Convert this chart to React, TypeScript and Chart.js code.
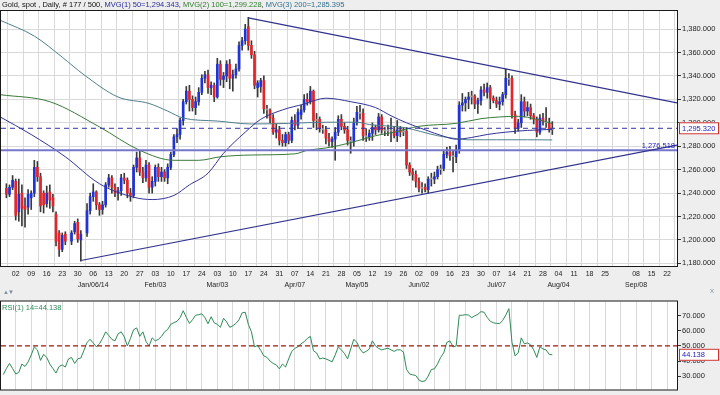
import React, { useEffect, useRef } from "react";
import { Chart, registerables } from "chart.js";

Chart.register(...registerables);

const FONT = "'Liberation Sans', Arial, sans-serif";

// ---------------- data ----------------
const dates = [
  "2013-11-27", "2013-11-28", "2013-11-29",
  "2013-12-02", "2013-12-03", "2013-12-04", "2013-12-05", "2013-12-06",
  "2013-12-09", "2013-12-10", "2013-12-11", "2013-12-12", "2013-12-13",
  "2013-12-16", "2013-12-17", "2013-12-18", "2013-12-19", "2013-12-20",
  "2013-12-23", "2013-12-24", "2013-12-26", "2013-12-27",
  "2013-12-30", "2013-12-31", "2014-01-02", "2014-01-03",
  "2014-01-06", "2014-01-07", "2014-01-08", "2014-01-09", "2014-01-10",
  "2014-01-13", "2014-01-14", "2014-01-15", "2014-01-16", "2014-01-17",
  "2014-01-20", "2014-01-21", "2014-01-22", "2014-01-23", "2014-01-24",
  "2014-01-27", "2014-01-28", "2014-01-29", "2014-01-30", "2014-01-31",
  "2014-02-03", "2014-02-04", "2014-02-05", "2014-02-06", "2014-02-07",
  "2014-02-10", "2014-02-11", "2014-02-12", "2014-02-13", "2014-02-14",
  "2014-02-17", "2014-02-18", "2014-02-19", "2014-02-20", "2014-02-21",
  "2014-02-24", "2014-02-25", "2014-02-26", "2014-02-27", "2014-02-28",
  "2014-03-03", "2014-03-04", "2014-03-05", "2014-03-06", "2014-03-07",
  "2014-03-10", "2014-03-11", "2014-03-12", "2014-03-13", "2014-03-14",
  "2014-03-17", "2014-03-18", "2014-03-19", "2014-03-20", "2014-03-21",
  "2014-03-24", "2014-03-25", "2014-03-26", "2014-03-27", "2014-03-28",
  "2014-03-31", "2014-04-01", "2014-04-02", "2014-04-03", "2014-04-04",
  "2014-04-07", "2014-04-08", "2014-04-09", "2014-04-10", "2014-04-11",
  "2014-04-14", "2014-04-15", "2014-04-16", "2014-04-17", "2014-04-18",
  "2014-04-21", "2014-04-22", "2014-04-23", "2014-04-24", "2014-04-25",
  "2014-04-28", "2014-04-29", "2014-04-30", "2014-05-01", "2014-05-02",
  "2014-05-05", "2014-05-06", "2014-05-07", "2014-05-08", "2014-05-09",
  "2014-05-12", "2014-05-13", "2014-05-14", "2014-05-15", "2014-05-16",
  "2014-05-19", "2014-05-20", "2014-05-21", "2014-05-22", "2014-05-23",
  "2014-05-26", "2014-05-27", "2014-05-28", "2014-05-29", "2014-05-30",
  "2014-06-02", "2014-06-03", "2014-06-04", "2014-06-05", "2014-06-06",
  "2014-06-09", "2014-06-10", "2014-06-11", "2014-06-12", "2014-06-13",
  "2014-06-16", "2014-06-17", "2014-06-18", "2014-06-19", "2014-06-20",
  "2014-06-23", "2014-06-24", "2014-06-25", "2014-06-26", "2014-06-27",
  "2014-06-30", "2014-07-01", "2014-07-02", "2014-07-03", "2014-07-04",
  "2014-07-07", "2014-07-08", "2014-07-09", "2014-07-10", "2014-07-11",
  "2014-07-14", "2014-07-15", "2014-07-16", "2014-07-17", "2014-07-18",
  "2014-07-21", "2014-07-22", "2014-07-23", "2014-07-24", "2014-07-25",
  "2014-07-28", "2014-07-29", "2014-07-30", "2014-07-31",
];

const opens = [
  1244, 1239, 1245,
  1250, 1224, 1240, 1229, 1228,
  1236, 1240, 1262, 1254, 1240,
  1231, 1241, 1236, 1222, 1206,
  1192, 1205, 1199, 1207,
  1215, 1200, 1206, 1225,
  1237, 1241, 1230, 1226, 1230,
  1247, 1253, 1245, 1240, 1242,
  1253, 1251, 1240, 1238, 1262,
  1270, 1258, 1253, 1264, 1245,
  1250, 1262, 1254, 1258, 1253,
  1262, 1273, 1288, 1290, 1302,
  1318, 1327, 1320, 1313, 1318,
  1326, 1338, 1341, 1330, 1332,
  1322, 1350, 1337, 1340, 1350,
  1338, 1341, 1346, 1366, 1370,
  1382, 1366, 1358, 1330, 1331,
  1336, 1312, 1311, 1304, 1292,
  1294, 1285, 1283, 1290, 1285,
  1302, 1298, 1307, 1311, 1320,
  1318, 1327, 1302, 1303, 1295,
  1294, 1287, 1284, 1286, 1292,
  1303, 1297, 1294, 1285, 1284,
  1300, 1309, 1308, 1289, 1288,
  1291, 1296, 1294, 1305, 1294,
  1293, 1294, 1293, 1289, 1294,
  1292, 1293, 1264, 1258, 1256,
  1250, 1244, 1245, 1243, 1252,
  1252, 1254, 1260, 1261, 1273,
  1275, 1272, 1271, 1277, 1315,
  1317, 1320, 1322, 1323, 1316,
  1319, 1328, 1326, 1330, 1321,
  1319, 1316, 1318, 1324, 1338,
  1338, 1307, 1295, 1300, 1318,
  1310, 1313, 1306, 1303, 1292,
  1304, 1301, 1300, 1294,
];

const highs = [
  1248, 1247, 1255,
  1252, 1252, 1247, 1236, 1243,
  1242, 1268, 1267, 1257, 1242,
  1246, 1247, 1239, 1224, 1208,
  1206, 1207, 1208, 1216,
  1218, 1208, 1231, 1240,
  1248, 1242, 1232, 1233, 1249,
  1256, 1255, 1248, 1245, 1256,
  1257, 1253, 1244, 1264, 1275,
  1276, 1262, 1268, 1266, 1254,
  1264, 1265, 1262, 1260, 1265,
  1275, 1290, 1295, 1304, 1320,
  1331, 1332, 1323, 1322, 1330,
  1341, 1344, 1345, 1335, 1334,
  1355, 1353, 1343, 1353, 1354,
  1345, 1350, 1369, 1373, 1384,
  1390, 1370, 1361, 1336, 1338,
  1340, 1315, 1312, 1307, 1299,
  1297, 1290, 1292, 1292, 1305,
  1307, 1312, 1315, 1324, 1325,
  1331, 1328, 1308, 1305, 1298,
  1297, 1291, 1288, 1296, 1306,
  1307, 1300, 1297, 1288, 1304,
  1314, 1315, 1312, 1295, 1294,
  1300, 1298, 1308, 1307, 1296,
  1298, 1304, 1297, 1302, 1297,
  1296, 1296, 1266, 1261, 1259,
  1253, 1249, 1248, 1254, 1257,
  1258, 1263, 1264, 1276, 1279,
  1280, 1276, 1281, 1318, 1325,
  1322, 1326, 1327, 1324, 1321,
  1331, 1333, 1334, 1332, 1323,
  1322, 1322, 1326, 1346, 1342,
  1340, 1310, 1303, 1324, 1322,
  1318, 1316, 1308, 1305, 1307,
  1308, 1313, 1304, 1301,
];

const lows = [
  1236, 1237, 1243,
  1217, 1216, 1212, 1211, 1222,
  1226, 1237, 1250, 1224, 1223,
  1228, 1227, 1224, 1195, 1186,
  1190, 1196, 1196, 1205,
  1198, 1182, 1203, 1222,
  1233, 1226, 1221, 1222, 1228,
  1245, 1240, 1237, 1234, 1238,
  1248, 1236, 1233, 1236, 1258,
  1255, 1249, 1250, 1240, 1240,
  1246, 1250, 1250, 1250, 1248,
  1260, 1271, 1283, 1286, 1298,
  1316, 1310, 1310, 1307, 1315,
  1324, 1334, 1325, 1324, 1318,
  1321, 1332, 1330, 1335, 1329,
  1327, 1338, 1344, 1362, 1367,
  1362, 1355, 1329, 1322, 1326,
  1308, 1304, 1300, 1290, 1287,
  1281, 1280, 1280, 1282, 1283,
  1294, 1295, 1303, 1309, 1315,
  1316, 1296, 1294, 1292, 1291,
  1282, 1280, 1279, 1268, 1289,
  1294, 1291, 1281, 1274, 1280,
  1298, 1303, 1285, 1284, 1285,
  1285, 1290, 1292, 1291, 1289,
  1289, 1284, 1287, 1284, 1288,
  1289, 1261, 1255, 1251, 1245,
  1241, 1240, 1241, 1240, 1246,
  1248, 1252, 1256, 1259, 1270,
  1268, 1258, 1266, 1274, 1310,
  1310, 1312, 1316, 1312, 1308,
  1315, 1323, 1321, 1312, 1317,
  1313, 1311, 1315, 1321, 1332,
  1304, 1291, 1293, 1296, 1305,
  1306, 1303, 1299, 1288, 1290,
  1298, 1296, 1292, 1290,
];

const closes = [
  1239, 1245, 1251,
  1221, 1239, 1227, 1226, 1239,
  1240, 1262, 1254, 1229, 1230,
  1240, 1234, 1229, 1199, 1192,
  1204, 1199, 1206, 1214,
  1201, 1205, 1225, 1237,
  1241, 1230, 1226, 1230, 1247,
  1253, 1245, 1240, 1242, 1253,
  1251, 1240, 1238, 1262, 1270,
  1258, 1253, 1264, 1245, 1250,
  1262, 1254, 1258, 1253, 1262,
  1273, 1288, 1290, 1302, 1318,
  1327, 1320, 1313, 1318, 1326,
  1338, 1341, 1330, 1332, 1322,
  1350, 1337, 1340, 1350, 1338,
  1341, 1346, 1366, 1370, 1380,
  1366, 1358, 1332, 1334, 1336,
  1312, 1311, 1304, 1292, 1294,
  1285, 1283, 1290, 1285, 1302,
  1298, 1309, 1311, 1320, 1318,
  1327, 1302, 1303, 1295, 1294,
  1287, 1284, 1286, 1292, 1303,
  1297, 1294, 1285, 1284, 1300,
  1309, 1308, 1289, 1288, 1291,
  1296, 1294, 1305, 1294, 1293,
  1294, 1293, 1289, 1294, 1292,
  1293, 1264, 1258, 1256, 1250,
  1244, 1245, 1243, 1252, 1252,
  1254, 1260, 1261, 1273, 1275,
  1272, 1271, 1277, 1315, 1317,
  1320, 1322, 1323, 1316, 1319,
  1328, 1326, 1330, 1321, 1319,
  1316, 1318, 1324, 1338, 1337,
  1307, 1295, 1300, 1318, 1310,
  1313, 1306, 1303, 1292, 1304,
  1301, 1300, 1294, 1295.32,
];

// moving averages (trading-day slot, value)
const ma50Days = [-5, 5, 16, 27, 38, 44, 51, 56, 62, 67, 74, 79, 86, 93, 100, 108, 116, 121, 126, 132, 138, 142, 147, 152, 158, 165, 173];
const ma50Vals = [1305, 1290, 1271, 1248, 1236.5, 1234.5, 1238, 1247, 1257, 1274, 1292, 1303, 1311, 1316, 1321, 1318, 1313, 1306, 1300, 1294, 1288.5, 1286, 1287.5, 1290, 1292, 1293.5, 1294.343];
const ma100Days = [-5, 11, 27, 40, 51, 59, 66, 76, 90, 94, 100, 108, 116, 122, 130, 142, 150, 156, 162, 168, 173];
const ma100Vals = [1324, 1318, 1296.5, 1276.5, 1268, 1268, 1271, 1272.5, 1273.5, 1276.5, 1278.5, 1283, 1289, 1292, 1297, 1299.5, 1303.5, 1305, 1305.5, 1303, 1299.228];
const ma200Days = [-5, 6, 15, 22, 33, 43, 49, 54, 65, 76, 88, 100, 110, 114, 125, 136, 142, 146, 155, 165, 173];
const ma200Vals = [1387.5, 1374, 1356, 1341, 1322, 1316.5, 1310, 1304, 1301.5, 1299, 1299.5, 1300.5, 1300.5, 1298.5, 1296, 1289, 1286.5, 1285.5, 1285.5, 1285.5, 1285.395];

// trend lines (slot, price)
const upperTrendDays = [75, 213.2];
const upperTrendPrices = [1389.5, 1317];
const lowerTrendDays = [21, 213.2];
const lowerTrendPrices = [1182.5, 1281];
const LEVEL_LINE = 1276.518;
const LAST_PRICE = 1295.32;

// RSI(14), one value per slot starting at RSI_FIRST_DAY
const RSI_FIRST_DAY = -4;
const rsiValues = [
  31, 35, 38.4, 35, 31.4, 32.4, 38, 36.4, 39.4, 44,
  49.4, 47.4, 40.4, 44.4, 42.4, 38, 35, 32, 36.4, 37.4,
  36, 41.4, 42.4, 38.4, 41.4, 42, 47, 52.4, 54.4, 52,
  49.4, 51.4, 55, 59.4, 57, 54.4, 53.4, 58, 59.4, 56,
  50, 55, 60.8, 62, 56.4, 59.4, 53, 50, 55.4, 53.4,
  54.4, 56.4, 59.4, 61, 64.4, 65.5, 66.4, 68.8, 73.4, 69,
  65, 67.4, 70.4, 70.8, 71.4, 68.8, 64.8, 69.4, 65.4, 64.4,
  62.4, 68.4, 66, 62.4, 63.4, 65, 67.4, 72, 72.4, 64.4,
  59.4, 49.4, 50.4, 47, 43.4, 42.4, 40, 38.4, 37.4, 34.8,
  38, 36, 41.4, 46.4, 48.4, 49.5, 51.4, 52.8, 55, 56.4,
  46.8, 45.4, 41.4, 42, 41.4, 40.5, 39.4, 44, 49.4, 47.4,
  45, 41.4, 48, 54.4, 52.4, 48, 45.4, 46.4, 48, 53.4,
  50, 48.4, 47.4, 48, 48.5, 47.4, 46.4, 47.5, 47.4, 46,
  34.4, 31.4, 30.8, 30.4, 27.4, 26.4, 26.8, 30, 34.4, 34.8,
  38, 42.4, 45.4, 52.4, 53.4, 49.4, 50, 70.4, 70.4, 70.8,
  70.5, 68.8, 70, 71, 72.8, 72.4, 69, 66.4, 65.4, 65,
  64.8, 67, 70.5, 74.8, 52.4, 43.4, 45.4, 55.4, 51.4, 52,
  50.8, 47.4, 42.4, 49.4, 48, 47.4, 44.4, 44.138,
];
const RSI_LAST = 44.138;
const RSI_MID = 50;

// axis labels
const priceTicks = [1180, 1200, 1220, 1240, 1260, 1280, 1300, 1320, 1340, 1360, 1380];
const rsiTicks = [30, 40, 50, 60, 70];
const weekDayLabels = [
  "02", "09", "16", "23", "30", "06", "13", "20", "27", "03", "10", "17", "24",
  "03", "10", "17", "24", "31", "07", "14", "21", "28", "05", "12", "19", "26",
  "02", "09", "16", "23", "30", "07", "14", "21", "28", "04", "11", "18", "25",
  "", "08", "15", "22",
];
const monthWeeks = [5, 9, 13, 18, 22, 26, 31, 35, 40];
const monthNames = ["Jan/06/14", "Feb/03", "Mar/03", "Apr/07", "May/05", "Jun/02", "Jul/07", "Aug/04", "Sep/08"];

// ---------------- layout ----------------
const X_MIN = -4.74;
const X_MAX = 213.2;
const Y_MIN = 1177.8;
const Y_MAX = 1395.4;
const RSI_MIN = 21.08;
const RSI_MAX = 79.54;
const AXIS_W = 43;

const START = Date.UTC(2013, 11, 2);
function slotOf(d: string) {
  const [y, m, dd] = d.split("-").map(Number);
  const days = Math.round((Date.UTC(y, m - 1, dd) - START) / 86400000);
  const w = Math.floor(days / 7);
  return w * 5 + (days - w * 7);
}
const weekTicks = weekDayLabels.map((_, w) => w * 5);

function fmt3(v: number) {
  return Number(v).toLocaleString("en-US", { minimumFractionDigits: 3, maximumFractionDigits: 3 });
}

const UP = "#1f33d6";
const DOWN = "#e3262a";
const FLAT = "#9b9b9b";

function labelBox(ctx: CanvasRenderingContext2D, text: string, y: number) {
  ctx.fillStyle = "#ffffff";
  ctx.fillRect(679, y - 6, 40, 12);
  ctx.strokeStyle = "#d23030";
  ctx.lineWidth = 1;
  ctx.strokeRect(679.5, y - 5.5, 39, 11);
  ctx.fillStyle = "#2020c0";
  ctx.font = `7.5px ${FONT}`;
  ctx.textAlign = "left";
  ctx.textBaseline = "middle";
  ctx.fillText(text, 682, y + 0.5);
}

export default function App() {
  const mainRef = useRef<HTMLCanvasElement>(null);
  const rsiRef = useRef<HTMLCanvasElement>(null);

  useEffect(() => {
    const slots = dates.map(slotOf);
    const bodyData = slots.map((x, i) => ({ x, y: [opens[i], closes[i]] }));
    const wickData = slots.map((x, i) => ({ x, y: [lows[i], highs[i]] }));
    const bodyColors = opens.map((o, i) =>
      Math.abs(closes[i] - o) < 2 ? FLAT : closes[i] > o ? UP : DOWN
    );
    const pts = (xs: number[], ys: number[]) => xs.map((x, i) => ({ x, y: ys[i] }));

    const mainDeco = {
      id: "mainDeco",
      beforeDraw(chart: any) {
        const { ctx, chartArea: a } = chart;
        ctx.save();
        ctx.fillStyle = "#ffffff";
        ctx.fillRect(a.left, a.top, a.right - a.left, a.bottom - a.top);
        ctx.restore();
      },
      afterDraw(chart: any) {
        const { ctx, chartArea: a, scales } = chart;
        const y = scales.y;
        ctx.save();
        ctx.strokeStyle = "#1a1a1a";
        ctx.lineWidth = 1;
        ctx.strokeRect(a.left - 0.5, a.top - 0.5, a.right - a.left + 1, a.bottom - a.top + 1);
        const ly = y.getPixelForValue(LEVEL_LINE);
        ctx.fillStyle = "#2020c0";
        ctx.font = `7.5px ${FONT}`;
        ctx.textAlign = "right";
        ctx.textBaseline = "bottom";
        ctx.fillText(fmt3(LEVEL_LINE), a.right - 2, ly - 1);
        labelBox(ctx, fmt3(LAST_PRICE), y.getPixelForValue(LAST_PRICE));
        ctx.restore();
      },
    };

    const main = new Chart(mainRef.current!, {
      type: "bar",
      data: {
        datasets: [
          { type: "line", data: pts(upperTrendDays, upperTrendPrices), borderColor: "#32328e", borderWidth: 1.2, pointRadius: 0, order: 0 } as any,
          { type: "line", data: pts(lowerTrendDays, lowerTrendPrices), borderColor: "#32328e", borderWidth: 1.2, pointRadius: 0, order: 0 } as any,
          { type: "line", data: [{ x: X_MIN, y: LEVEL_LINE }, { x: X_MAX, y: LEVEL_LINE }], borderColor: "#7676cc", borderWidth: 2, pointRadius: 0, order: 0 } as any,
          { type: "line", data: [{ x: X_MIN, y: LAST_PRICE }, { x: X_MAX, y: LAST_PRICE }], borderColor: "#3434a8", borderWidth: 1, borderDash: [5, 4], pointRadius: 0, order: 0 } as any,
          { type: "line", data: pts(ma50Days, ma50Vals), borderColor: "#34349a", borderWidth: 1, pointRadius: 0, cubicInterpolationMode: "monotone", order: 1 } as any,
          { type: "line", data: pts(ma100Days, ma100Vals), borderColor: "#3b7a3b", borderWidth: 1, pointRadius: 0, cubicInterpolationMode: "monotone", order: 1 } as any,
          { type: "line", data: pts(ma200Days, ma200Vals), borderColor: "#4f7f8c", borderWidth: 1, pointRadius: 0, cubicInterpolationMode: "monotone", order: 1 } as any,
          { type: "bar", data: bodyData, backgroundColor: bodyColors, barThickness: 2, grouped: false, minBarLength: 1, borderWidth: 0, order: 2 } as any,
          { type: "bar", data: wickData, backgroundColor: "#3a3a3a", barThickness: 1, grouped: false, borderWidth: 0, order: 3 } as any,
        ],
      },
      options: {
        responsive: true,
        maintainAspectRatio: false,
        animation: false,
        events: [],
        layout: { padding: { left: 1, top: 11, right: 0, bottom: 0 } },
        plugins: { legend: { display: false }, tooltip: { enabled: false } },
        scales: {
          x: {
            type: "linear",
            min: X_MIN,
            max: X_MAX,
            offset: false,
            afterBuildTicks: (s: any) => { s.ticks = weekTicks.map((v) => ({ value: v })); },
            afterFit: (s: any) => { s.height = 30; },
            ticks: {
              autoSkip: false,
              maxRotation: 0,
              minRotation: 0,
              padding: 2.5,
              color: "#222",
              font: { family: FONT, size: 7, lineHeight: "11px" },
              callback: (v: any) => {
                const w = Math.round(Number(v) / 5);
                const d = weekDayLabels[w] ?? "";
                const mi = monthWeeks.indexOf(w);
                return mi >= 0 ? [d, monthNames[mi]] : d;
              },
            },
            grid: { color: "#d9d9d9", drawTicks: false },
            border: { color: "#1a1a1a" },
          },
          y: {
            position: "right",
            min: Y_MIN,
            max: Y_MAX,
            afterBuildTicks: (s: any) => { s.ticks = priceTicks.map((v) => ({ value: v })); },
            afterFit: (s: any) => { s.width = AXIS_W; },
            ticks: { padding: 1, color: "#222", font: { family: FONT, size: 7.5 }, callback: (v: any) => fmt3(Number(v)) },
            grid: { color: "#d9d9d9", tickColor: "#333", tickLength: 4 },
            border: { color: "#1a1a1a" },
          },
        },
      } as any,
      plugins: [mainDeco],
    });

    const rsiDeco = {
      id: "rsiDeco",
      beforeDraw(chart: any) {
        const { ctx, chartArea: a } = chart;
        ctx.save();
        ctx.fillStyle = "#ffffff";
        ctx.fillRect(a.left, a.top, a.right - a.left, a.bottom - a.top);
        ctx.restore();
      },
      afterDraw(chart: any) {
        const { ctx, chartArea: a, scales } = chart;
        ctx.save();
        ctx.strokeStyle = "#1a1a1a";
        ctx.lineWidth = 1;
        ctx.strokeRect(a.left - 0.5, a.top - 0.5, a.right - a.left + 1, a.bottom - a.top + 1);
        ctx.fillStyle = "#2e8b57";
        ctx.font = `7.5px ${FONT}`;
        ctx.textAlign = "left";
        ctx.textBaseline = "middle";
        ctx.fillText(`RSI(1) 14=${RSI_LAST}`, a.left + 1, a.top + 6);
        labelBox(ctx, fmt3(RSI_LAST), scales.y.getPixelForValue(RSI_LAST));
        ctx.restore();
      },
    };

    const rsi = new Chart(rsiRef.current!, {
      type: "line",
      data: {
        datasets: [
          { data: rsiValues.map((v, i) => ({ x: RSI_FIRST_DAY + i, y: v })), borderColor: "#2e8b57", borderWidth: 1, pointRadius: 0, order: 1 },
          { data: [{ x: X_MIN, y: RSI_MID }, { x: X_MAX, y: RSI_MID }], borderColor: "#a31515", borderWidth: 1.2, borderDash: [5, 3], pointRadius: 0, order: 0 },
        ],
      },
      options: {
        responsive: true,
        maintainAspectRatio: false,
        animation: false,
        events: [],
        layout: { padding: { left: 1, top: 3, right: 0, bottom: 1 } },
        plugins: { legend: { display: false }, tooltip: { enabled: false } },
        scales: {
          x: {
            type: "linear",
            min: X_MIN,
            max: X_MAX,
            afterBuildTicks: (s: any) => { s.ticks = weekTicks.map((v) => ({ value: v })); },
            afterFit: (s: any) => { s.height = 0; },
            ticks: { display: false },
            grid: { color: "#d9d9d9", drawTicks: false },
            border: { display: false },
          },
          y: {
            position: "right",
            min: RSI_MIN,
            max: RSI_MAX,
            afterBuildTicks: (s: any) => { s.ticks = rsiTicks.map((v) => ({ value: v })); },
            afterFit: (s: any) => { s.width = AXIS_W; },
            ticks: { padding: 1, color: "#222", font: { family: FONT, size: 7.5 }, callback: (v: any) => fmt3(Number(v)) },
            grid: { drawOnChartArea: false, tickColor: "#333", tickLength: 4 },
            border: { color: "#1a1a1a" },
          },
        },
      } as any,
      plugins: [rsiDeco],
    });

    return () => {
      main.destroy();
      rsi.destroy();
    };
  }, []);

  return (
    <div style={{ position: "fixed", left: 0, top: 0, width: 720, height: 395, background: "#eeeeee", overflow: "hidden", fontFamily: FONT }}>
      <div style={{ position: "absolute", left: 0, top: 0, width: 720, height: 296 }}>
        <canvas ref={mainRef} />
      </div>
      <div style={{ position: "absolute", left: 0, top: 296, width: 720, height: 99 }}>
        <canvas ref={rsiRef} />
      </div>
      <div style={{ position: "absolute", left: 2, top: 0, fontSize: 7.5, lineHeight: "10px", whiteSpace: "nowrap", color: "#111" }}>
        <span>Gold, spot , Daily, # 177 / 500, </span>
        <span style={{ color: "#2a2a9a" }}>MVG(1) 50=1,294.343</span>
        <span>, </span>
        <span style={{ color: "#2e7d2e" }}>MVG(2) 100=1,299.228</span>
        <span>, </span>
        <span style={{ color: "#2f6f8f" }}>MVG(3) 200=1,285.395</span>
      </div>
      <div style={{ position: "absolute", left: 3, top: 288, fontSize: 6, lineHeight: "8px", color: "#7d8ea0", letterSpacing: -1 }}>▲▼</div>
      <div style={{ position: "absolute", left: 710, top: 286, fontSize: 8, lineHeight: "10px", color: "#8a9aaa" }}>x</div>
    </div>
  );
}
